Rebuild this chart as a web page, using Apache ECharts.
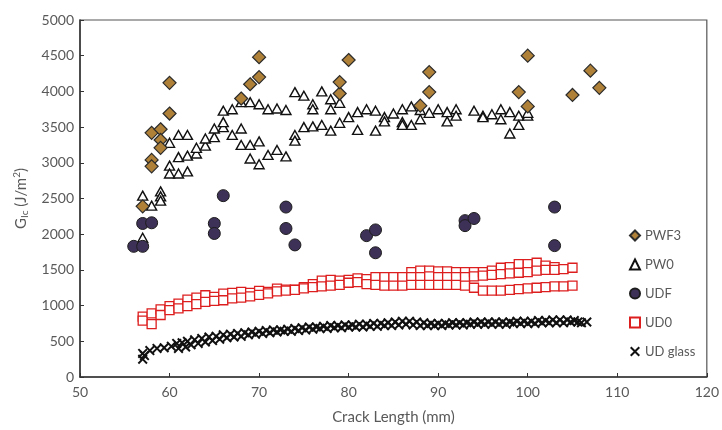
<!DOCTYPE html>
<html>
<head>
<meta charset="utf-8">
<script src="https://cdn.jsdelivr.net/npm/echarts@6/dist/echarts.min.js"></script>
<style>
  html, body { margin: 0; padding: 0; background: #fff; }
  #chart { width: 722px; height: 430px; }
</style>
</head>
<body>
<div id="chart"></div>
<script>
// Fracture toughness G_Ic versus crack length for five laminate types.
const xTicks = [50, 60, 70, 80, 90, 100, 110, 120];
const yTicks = [0, 500, 1000, 1500, 2000, 2500, 3000, 3500, 4000, 4500, 5000];

// [crack length (mm), G_Ic (J/m2)]
const pwf3 = [
  [57, 2390], [58, 3040], [58, 2950], [58, 3420], [59, 3470], [59, 3320], [59, 3210],
  [60, 3690], [60, 4120], [68, 3900], [69, 4100], [70, 4200], [70, 4480],
  [79, 3970], [79, 4130], [80, 4440], [88, 3800], [89, 3990], [89, 4270],
  [99, 3990], [100, 3790], [100, 4500], [105, 3950], [107, 4290], [108, 4050]
];

const pw0 = [
  [57, 2540], [57, 1950], [58, 2400], [59, 2600], [59, 2530], [59, 2470],
  [60, 2960], [60, 2850], [60, 3280], [61, 2850], [61, 3080], [61, 3390],
  [62, 2880], [62, 3100], [62, 3390], [63, 3130], [63, 3210], [64, 3240], [64, 3340],
  [65, 3360], [65, 3480], [66, 3500], [66, 3570], [66, 3730], [67, 3750], [67, 3390],
  [68, 3850], [68, 3480], [68, 3250], [69, 3850], [69, 3250], [69, 3060],
  [70, 3820], [70, 3300], [70, 2980], [71, 3750], [71, 3110], [72, 3760], [72, 3180],
  [73, 3740], [73, 3090], [74, 3990], [74, 3390], [74, 3310], [75, 3940], [75, 3500],
  [76, 3820], [76, 3750], [76, 3510], [77, 4000], [77, 3530], [78, 3890], [78, 3750],
  [78, 3450], [79, 3840], [79, 3560], [80, 3640], [81, 3710], [81, 3460], [82, 3750],
  [83, 3730], [83, 3450], [84, 3640], [84, 3580], [85, 3690], [86, 3750], [86, 3570],
  [86, 3530], [87, 3790], [87, 3530], [88, 3610], [88, 3740], [89, 3700], [90, 3750],
  [91, 3710], [91, 3580], [92, 3750], [92, 3660], [94, 3730], [95, 3660], [95, 3640],
  [96, 3680], [97, 3750], [97, 3610], [98, 3710], [98, 3410], [99, 3660], [99, 3530],
  [100, 3660], [100, 3700]
];

const udf = [
  [56, 1830], [57, 1830], [57, 2150], [58, 2160], [65, 2150], [65, 2010], [66, 2540],
  [73, 2380], [73, 2080], [74, 1850], [82, 1980], [83, 2060], [83, 1740],
  [93, 2190], [93, 2120], [94, 2220], [103, 2380], [103, 1840]
];

const ud0 = [
  [57, 845], [57, 790], [58, 890], [58, 740], [59, 946], [59, 868], [60, 993], [60, 937],
  [61, 1029], [61, 960], [62, 1085], [62, 993], [63, 1112], [63, 1020], [64, 1145], [64, 1052],
  [65, 1122], [65, 1066], [66, 1168], [66, 1075], [67, 1177], [67, 1100], [68, 1191], [68, 1113],
  [69, 1177], [69, 1130], [70, 1205], [70, 1150], [71, 1191], [71, 1170], [72, 1237], [72, 1200],
  [73, 1223], [73, 1210], [74, 1223], [74, 1220], [75, 1260], [75, 1240],
  [76, 1300], [76, 1260], [77, 1350], [77, 1270], [78, 1360], [78, 1280], [79, 1350], [79, 1290],
  [80, 1360], [80, 1320], [81, 1380], [81, 1330], [82, 1370], [82, 1300], [83, 1400], [83, 1290],
  [84, 1400], [84, 1280], [85, 1400], [85, 1280], [86, 1400], [86, 1280],
  [87, 1470], [87, 1400], [87, 1290], [88, 1490], [88, 1400], [88, 1290],
  [89, 1490], [89, 1410], [89, 1290], [90, 1480], [90, 1400], [90, 1290],
  [91, 1480], [91, 1400], [91, 1290], [92, 1470], [92, 1400], [92, 1290],
  [93, 1470], [93, 1400], [93, 1280], [94, 1470], [94, 1410], [94, 1250],
  [95, 1470], [95, 1420], [95, 1210], [96, 1490], [96, 1430], [96, 1210],
  [97, 1530], [97, 1440], [97, 1210], [98, 1540], [98, 1450], [98, 1220],
  [99, 1580], [99, 1460], [99, 1230], [100, 1580], [100, 1470], [100, 1240],
  [101, 1600], [101, 1490], [101, 1250], [102, 1560], [102, 1500], [102, 1260],
  [103, 1540], [103, 1500], [103, 1270], [104, 1510], [104, 1270], [105, 1530], [105, 1280]
];

const udGlass = [
  [57, 250], [57, 330], [57.2, 300], [57.8, 370], [58.6, 400], [59.4, 410], [60.2, 430],
  [60.8, 470], [61, 400], [61.4, 480], [61.8, 420], [62, 500], [62.4, 450], [62.8, 520],
  [63.2, 470], [63.6, 540], [64, 490], [64.4, 560], [64.8, 510], [65.2, 570], [65.6, 530],
  [66, 590], [66.4, 550], [66.8, 600], [67.2, 560], [67.6, 610], [68, 570], [68.4, 620],
  [68.8, 590], [69.2, 630], [69.6, 600], [70, 640], [70.4, 610], [70.8, 650], [71.2, 620],
  [71.6, 660], [72, 630], [72.4, 660], [72.8, 640], [73.2, 670], [73.6, 640], [74, 680],
  [74.4, 650], [74.8, 690], [75.2, 660], [75.6, 700], [76, 670], [76.4, 700], [76.8, 680],
  [77.2, 710], [77.6, 680], [78, 720], [78.4, 690], [78.8, 720], [79.2, 690], [79.6, 730],
  [80, 700], [80.4, 730], [80.8, 700], [81.2, 740], [81.6, 700], [82, 740], [82.4, 710],
  [82.8, 750], [83.2, 710], [83.6, 750], [84, 720], [84.4, 760], [84.8, 720], [85.2, 770],
  [85.6, 730], [86, 780], [86.4, 740], [86.8, 780], [87.2, 730], [87.6, 770], [88, 720],
  [88.4, 760], [88.8, 720], [89.2, 750], [89.6, 720], [90, 750], [90.4, 720], [90.8, 750],
  [91.2, 730], [91.6, 760], [92, 730], [92.4, 760], [92.8, 730], [93.2, 760], [93.6, 740],
  [94, 770], [94.4, 740], [94.8, 770], [95.2, 740], [95.6, 770], [96, 740], [96.4, 770],
  [96.8, 740], [97.2, 770], [97.6, 740], [98, 770], [98.4, 750], [98.8, 780], [99.2, 750],
  [99.6, 780], [100, 750], [100.4, 780], [100.8, 750], [101.2, 790], [101.6, 760], [102, 790],
  [102.4, 760], [102.8, 800], [103.2, 760], [103.6, 800], [104, 760], [104.4, 800],
  [104.8, 770], [105.2, 790], [105.6, 770], [106, 760], [106.6, 770]
];

const seriesNames = ['PWF3', 'PW0', 'UDF', 'UD0', 'UD glass'];

// thin filled "x" glyph
const crossPath = 'path://M0,1.4 L1.4,0 L5,3.6 L8.6,0 L10,1.4 L6.4,5 L10,8.6 L8.6,10 L5,6.4 L1.4,10 L0,8.6 L3.6,5 Z';

const FONT = 'Lato, "Open Sans", sans-serif';
const GREY = '#595959';

const chart = echarts.init(document.getElementById('chart'), null, { renderer: 'canvas' });

chart.setOption({
  animation: false,
  backgroundColor: '#fff',
  textStyle: { fontFamily: FONT },
  grid: {
    left: 80, top: 20, right: 10, bottom: 49,
    show: true, borderColor: '#555', borderWidth: 1.2
  },
  legend: {
    orient: 'vertical',
    left: 624, top: 224,
    itemWidth: 10, itemHeight: 10, itemGap: 16,
    data: seriesNames,
    textStyle: { color: GREY, fontSize: 13, fontFamily: FONT }
  },
  xAxis: {
    type: 'value',
    min: xTicks[0], max: xTicks[xTicks.length - 1], interval: 10,
    name: 'Crack Length (mm)',
    nameLocation: 'middle', nameGap: 33,
    nameTextStyle: { color: GREY, fontSize: 15, fontFamily: FONT },
    axisLine: { lineStyle: { color: '#333', width: 1.5 } },
    axisTick: { inside: true, length: 4, lineStyle: { color: '#333' } },
    axisLabel: { color: GREY, fontSize: 14, margin: 8, formatter: v => String(v) },
    splitLine: { show: false }
  },
  yAxis: {
    type: 'value',
    min: yTicks[0], max: yTicks[yTicks.length - 1], interval: 500,
    name: '{g|G}{s|Ic}{g| (J/m}{p|2}{g|)}',
    nameLocation: 'middle', nameRotate: 90, nameGap: 50,
    nameTextStyle: {
      color: GREY,
      rich: {
        g: { fontSize: 15, color: GREY, fontFamily: FONT, lineHeight: 18, verticalAlign: 'middle' },
        s: { fontSize: 10, color: GREY, fontFamily: FONT, lineHeight: 18, verticalAlign: 'bottom', padding: [7, 0, 0, 0] },
        p: { fontSize: 10, color: GREY, fontFamily: FONT, lineHeight: 18, verticalAlign: 'top', padding: [0, 0, 7, 0] }
      }
    },
    axisLine: { show: true, lineStyle: { color: '#333', width: 1.5 } },
    axisTick: { show: true, inside: true, length: 4, lineStyle: { color: '#333' } },
    axisLabel: { color: GREY, fontSize: 14, margin: 6, formatter: v => String(v) },
    splitLine: { show: false }
  },
  series: [
    {
      name: 'PWF3', type: 'scatter', data: pwf3,
      symbol: 'diamond', symbolSize: 13,
      itemStyle: { color: '#AE8038', borderColor: '#2b2b2b', borderWidth: 1.2, opacity: 1 },
      z: 3
    },
    {
      name: 'PW0', type: 'scatter', data: pw0,
      symbol: 'triangle', symbolSize: [10, 9],
      itemStyle: { color: '#fff', borderColor: '#111', borderWidth: 1.4, opacity: 1 },
      z: 2
    },
    {
      name: 'UDF', type: 'scatter', data: udf,
      symbol: 'circle', symbolSize: 12,
      itemStyle: { color: '#3E3157', borderColor: '#1d1d1d', borderWidth: 1, opacity: 1 },
      z: 4
    },
    {
      name: 'UD0', type: 'scatter', data: ud0,
      symbol: 'rect', symbolSize: 9,
      itemStyle: { color: '#fff', borderColor: '#DD1E1E', borderWidth: 1.3, opacity: 1 },
      z: 2
    },
    {
      name: 'UD glass', type: 'scatter', data: udGlass,
      symbol: crossPath, symbolSize: 10,
      itemStyle: { color: '#111', opacity: 1 },
      z: 2
    }
  ]
});
</script>
</body>
</html>
